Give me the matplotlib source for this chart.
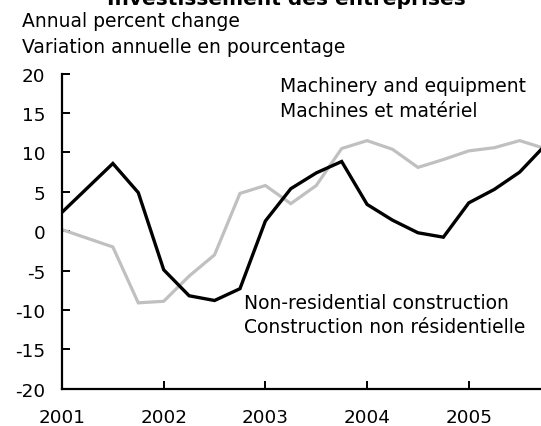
"""Business investment chart: machinery vs non-residential construction."""

import matplotlib

matplotlib.use("Agg")
import matplotlib.pyplot as plt
import numpy as np

plt.rcParams["font.family"] = ["DejaVu Sans"]
plt.rcParams["axes.unicode_minus"] = False

quarters = np.arange(2001.0, 2005.76, 0.25)
machinery = [0.2, -0.9, -2.0, -9.1, -8.9, -5.7, -3.0, 4.8, 5.8, 3.5, 5.8, 10.5,
             11.5, 10.4, 8.1, 9.1, 10.2, 10.6, 11.5, 10.5]
construction = [2.4, 5.5, 8.6, 4.9, -4.9, -8.2, -8.8, -7.3, 1.3, 5.4, 7.4, 8.85,
                3.4, 1.4, -0.2, -0.76, 3.6, 5.3, 7.5, 10.9]
year_ticks = [2001, 2002, 2003, 2004, 2005]
value_ticks = [-20, -15, -10, -5, 0, 5, 10, 15, 20]

W, H = 541, 427
FS = 13.5
fig = plt.figure(figsize=(W / 100, H / 100), dpi=100)
ax = fig.add_axes([62 / W, 1 - 389.7 / H, 1 - 62 / W, (389.7 - 74.7) / H])

ax.plot(quarters, machinery, color="#c0c0c0", lw=2.3, solid_joinstyle="miter")
ax.plot(quarters, construction, color="black", lw=2.4, solid_joinstyle="miter")

ax.set_xlim(2001, 2005.71)
ax.set_ylim(-20, 20)
ax.set_xticks(year_ticks)
ax.set_yticks(value_ticks)
for side in ("top", "right"):
    ax.spines[side].set_visible(False)
for side in ("left", "bottom"):
    ax.spines[side].set_linewidth(1.6)
ax.tick_params(axis="both", direction="in", length=6, width=1.4, labelsize=13.2)
ax.tick_params(axis="x", pad=14)
ax.tick_params(axis="y", pad=12)

fig.text(286.7 / W, 1 - 5 / H, "Investissement des entreprises", ha="center",
         va="baseline", fontsize=14.5, fontweight="bold")
fig.text(21.7 / W, 1 - 27.3 / H, "Annual percent change", va="baseline", fontsize=FS)
fig.text(21.7 / W, 1 - 52.7 / H, "Variation annuelle en pourcentage", va="baseline",
         fontsize=FS)
fig.text(280 / W, 1 - 91.7 / H, "Machinery and equipment", va="baseline", fontsize=FS)
fig.text(280 / W, 1 - 116.7 / H, "Machines et matériel", va="baseline", fontsize=FS)
fig.text(244.3 / W, 1 - 309.3 / H, "Non-residential construction", va="baseline",
         fontsize=FS)
fig.text(244.3 / W, 1 - 332.7 / H, "Construction non résidentielle", va="baseline",
         fontsize=FS)

fig.savefig("out.png", dpi=100)
